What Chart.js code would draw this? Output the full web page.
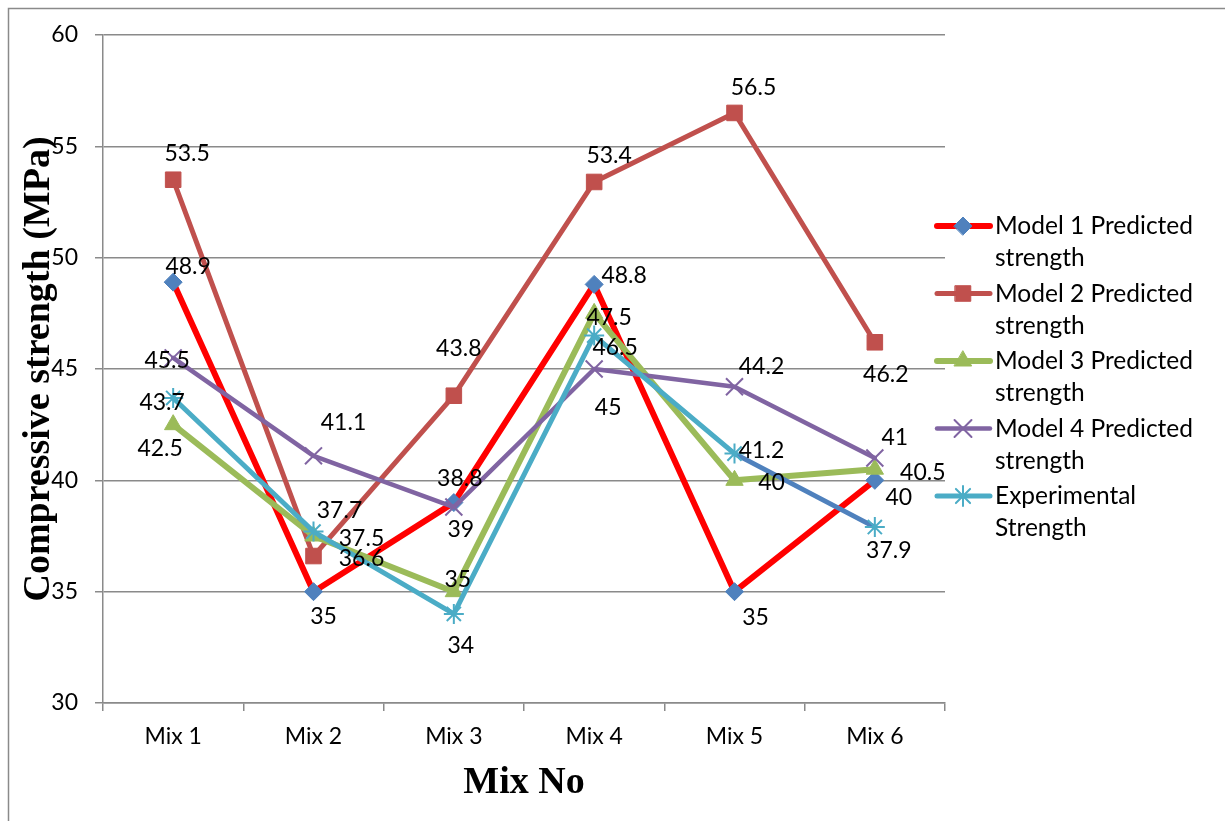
<!DOCTYPE html>
<html>
<head>
<meta charset="utf-8">
<script src="https://cdn.jsdelivr.net/npm/chart.js@4.4.1/dist/chart.umd.min.js"></script>
<style>
  html, body { margin: 0; padding: 0; background: #ffffff; }
  canvas { display: block; }
</style>
</head>
<body>
<canvas id="chart" width="1225" height="821"></canvas>
<script>
// Categories and series values
const mixes = ['Mix 1', 'Mix 2', 'Mix 3', 'Mix 4', 'Mix 5', 'Mix 6'];
const model1 = [48.9, 35, 39, 48.8, 35, 40];
const model2 = [53.5, 36.6, 43.8, 53.4, 56.5, 46.2];
const model3 = [42.5, 37.5, 35, 47.5, 40, 40.5];
const model4 = [45.5, 41.1, 38.8, 45, 44.2, 41];
const experimental = [43.7, 37.7, 34, 46.5, 41.2, 37.9];
const yTicks = [30, 35, 40, 45, 50, 55, 60];
const seriesNames = [
  ['Model 1 Predicted', 'strength'],
  ['Model 2 Predicted', 'strength'],
  ['Model 3 Predicted', 'strength'],
  ['Model 4 Predicted', 'strength'],
  ['Experimental', 'Strength']
];

// Value-label placement relative to each point (px)
const labelShift1 = [[15, -16], [10, 24], [7, 26], [30, -9], [21, 25], [24, 17]];
const labelShift2 = [[14, -27], [48, 2], [5, -48], [15, -27], [19, -26], [11, 32]];
const labelShift3 = [[-13, 23], [48, 2], [4, -13], [15, 4], [37, 2], [48, 3]];
const labelShift4 = [[-6, 2], [30, -34], [6, -29], [14, 38], [27, -21], [20, -21]];
const labelShiftE = [[-11, 4], [26, -22], [7, 31], [21, 11], [27, -4], [14, 23]];

const SANS = 'Lato, "Open Sans", sans-serif';
const SERIF = '"Liberation Serif", "DejaVu Serif", serif';
const GRID = '#8a8a8a';

function series(label, data, line, marker, style, radius, width, shifts, extra) {
  return Object.assign({
    label: label,
    data: data,
    borderColor: line,
    backgroundColor: marker,
    borderWidth: width,
    borderJoinStyle: 'round',
    borderCapStyle: 'round',
    pointStyle: style,
    pointRadius: radius,
    pointHoverRadius: radius,
    pointBackgroundColor: marker,
    pointBorderColor: marker,
    pointBorderWidth: 1,
    tension: 0,
    fill: false,
    labelShift: shifts
  }, extra || {});
}

const datasets = [
  series('Model 1 Predicted strength', model1, '#FF0000', '#4F81BD', 'rectRot', 9, 6, labelShift1, { order: 5 }),
  series('Model 2 Predicted strength', model2, '#C0504D', '#C0504D', 'rect', 11, 5, labelShift2, { order: 4 }),
  series('Model 3 Predicted strength', model3, '#9BBB59', '#9BBB59', 'triangle', 10, 6, labelShift3, { order: 3 }),
  series('Model 4 Predicted strength', model4, '#8064A2', '#8064A2', 'crossRot', 12, 4.5, labelShift4, { order: 2, pointBorderWidth: 2 }),
  series('Experimental Strength', experimental, '#4BACC6', '#4BACC6', 'star', 10, 5, labelShiftE, {
    order: 1,
    pointBorderWidth: 2,
    segment: { borderColor: ctx => (ctx.p0DataIndex === 4 ? '#4F81BD' : undefined) }
  })
];

// Outer frame around the chart
const framePlugin = {
  id: 'frame',
  beforeDraw(chart) {
    const ctx = chart.ctx;
    ctx.save();
    ctx.fillStyle = '#ffffff';
    ctx.fillRect(0, 0, chart.width, chart.height);
    ctx.strokeStyle = GRID;
    ctx.lineWidth = 1.5;
    ctx.strokeRect(8.5, 8.5, chart.width + 20, chart.height + 20);
    ctx.restore();
  }
};

// Numeric labels next to every point
const valueLabels = {
  id: 'valueLabels',
  afterDatasetsDraw(chart) {
    const ctx = chart.ctx;
    ctx.save();
    ctx.font = '23px ' + SANS;
    ctx.fillStyle = '#000000';
    ctx.textAlign = 'center';
    ctx.textBaseline = 'alphabetic';
    chart.data.datasets.forEach((ds, di) => {
      const meta = chart.getDatasetMeta(di);
      meta.data.forEach((pt, i) => {
        const s = ds.labelShift[i];
        ctx.fillText(String(ds.data[i]), pt.x + s[0], pt.y + s[1] + 8);
      });
    });
    ctx.restore();
  }
};

function drawMarker(ctx, style, r, x, y, color, bw) {
  const helpers = Chart.helpers;
  if (helpers && helpers.drawPoint) {
    ctx.save();
    ctx.fillStyle = color;
    ctx.strokeStyle = color;
    ctx.lineWidth = bw;
    helpers.drawPoint(ctx, { pointStyle: style, radius: r, rotation: 0, borderWidth: bw }, x, y);
    ctx.restore();
  }
}

// Two-line legend at the right
const sideLegend = {
  id: 'sideLegend',
  afterDraw(chart) {
    const ctx = chart.ctx;
    ctx.save();
    const x0 = 937, x1 = 990, xm = 963, tx = 995;
    chart.data.datasets.forEach((ds, i) => {
      const y = 226 + i * 67.5;
      ctx.strokeStyle = ds.borderColor;
      ctx.lineWidth = ds.borderWidth;
      ctx.lineCap = 'round';
      ctx.beginPath();
      ctx.moveTo(x0, y);
      ctx.lineTo(x1, y);
      ctx.stroke();
      drawMarker(ctx, ds.pointStyle, ds.pointRadius, xm, y, ds.pointBackgroundColor, ds.pointBorderWidth);
      ctx.fillStyle = '#000000';
      ctx.font = '24.5px ' + SANS;
      ctx.textAlign = 'left';
      ctx.textBaseline = 'alphabetic';
      seriesNames[i].forEach((t, k) => ctx.fillText(t, tx, y + 8 + k * 32));
    });
    ctx.restore();
  }
};

new Chart(document.getElementById('chart'), {
  type: 'line',
  data: { labels: mixes, datasets: datasets },
  plugins: [framePlugin, valueLabels, sideLegend],
  options: {
    responsive: false,
    animation: false,
    devicePixelRatio: 1,
    layout: { padding: { left: 0, right: 280, top: 35, bottom: 0 } },
    plugins: {
      legend: { display: false },
      tooltip: { enabled: false }
    },
    scales: {
      x: {
        type: 'category',
        offset: true,
        afterFit(scale) { scale.height = 118; },
        grid: {
          offset: true,
          drawOnChartArea: false,
          drawTicks: true,
          tickLength: 8,
          color: GRID,
          lineWidth: 1.5
        },
        border: { display: true, color: GRID, width: 1.5 },
        ticks: {
          color: '#000000',
          font: { family: SANS, size: 23 },
          padding: 12,
          maxRotation: 0
        },
        title: {
          display: true,
          text: 'Mix No',
          color: '#000000',
          font: { family: SERIF, size: 38, weight: 'bold', lineHeight: 1.2 },
          padding: { top: 0, bottom: 15 }
        }
      },
      y: {
        min: 30,
        max: 60,
        afterFit(scale) { scale.width = 103; },
        afterBuildTicks(scale) { scale.ticks = yTicks.map(v => ({ value: v })); },
        grid: {
          drawTicks: true,
          tickLength: 8,
          color: GRID,
          lineWidth: 1.5
        },
        border: { display: true, color: GRID, width: 1.5 },
        ticks: {
          color: '#000000',
          font: { family: SANS, size: 23 },
          padding: 17
        },
        title: {
          display: true,
          text: 'Compressive strength (MPa)',
          color: '#000000',
          font: { family: SERIF, size: 38, weight: 'bold', lineHeight: 1.2 },
          padding: { top: 16, bottom: 0 }
        }
      }
    }
  }
});
</script>
</body>
</html>
